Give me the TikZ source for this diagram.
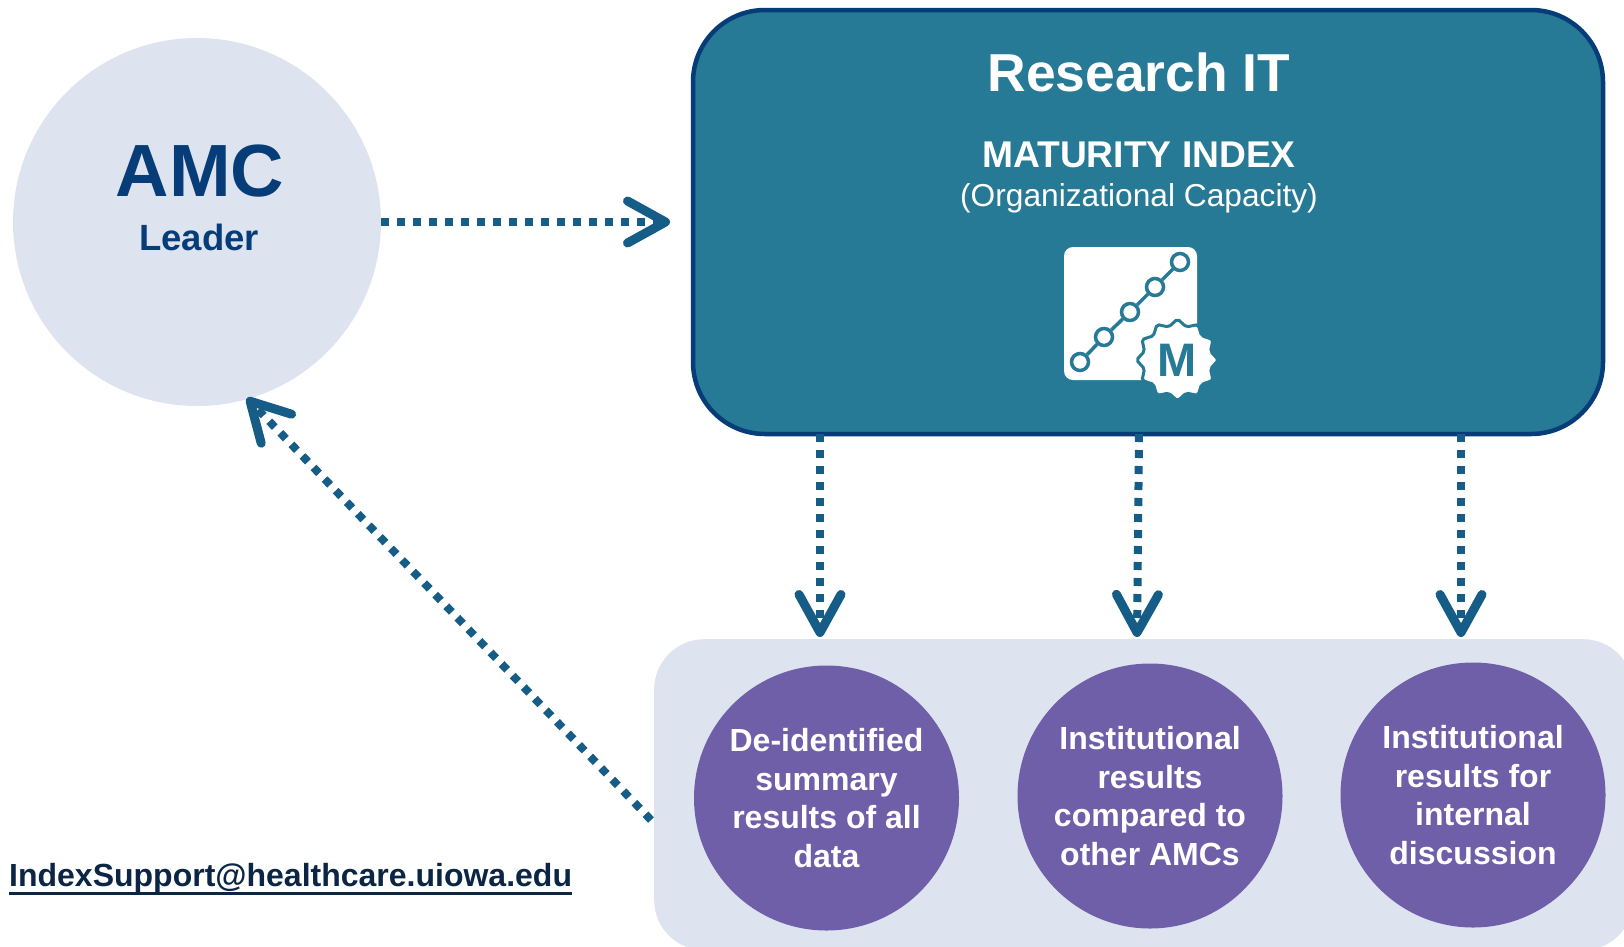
\documentclass[tikz,border=0pt]{standalone}
\usepackage{fontspec}
\setmainfont{Liberation Sans}
\usetikzlibrary{arrows.meta,shapes.geometric}
\definecolor{paleblue}{HTML}{DDE4F0}
\definecolor{navy}{HTML}{063C78}
\definecolor{teal}{HTML}{267A96}
\definecolor{flow}{HTML}{155C87}
\definecolor{purple}{HTML}{6F5FA8}
\definecolor{mail}{HTML}{0B2545}
\newcommand{\fs}[1]{\fontsize{#1}{#1}\selectfont}
\tikzset{
	flowline/.style={draw=flow,line width=8pt,dash pattern=on 8pt off 8pt,
		-{Straight Barb[length=38pt,width=42pt,line width=9pt,round]}},
	result/.style={circle,fill=purple,text=white,minimum size=265pt,inner sep=0pt,
		align=center,font=\fs{32}\bfseries},
	dot/.style={circle,draw=teal,fill=white,line width=3.5pt,minimum size=17pt,inner sep=0pt},
	link/.style={teal,line width=3.5pt},
}
\begin{document}
\begin{tikzpicture}[x=1pt,y=-1pt]
	\useasboundingbox (0,0) rectangle (1624,946);
	\clip (0,0) rectangle (1624,946);
	\node[circle,fill=paleblue,minimum size=368pt,inner sep=0pt] (amc) at (197,222) {};
	\node[text=navy,font=\fs{74}\bfseries] (amcname) at (200,171) {AMC};
	\node[text=navy,font=\fs{36.5}\bfseries] (leader) at (199,237) {Leader};
	\node[draw=navy,line width=4.5pt,fill=teal,rounded corners=72pt,minimum width=910pt,
		minimum height=424pt,inner sep=0pt] (research) at (1148,222) {};
	\node[text=white,font=\fs{53.4}\bfseries] (title) at (1139,72) {Research IT};
	\node[text=white,font=\fs{37.2}\bfseries] (index) at (1139,155) {MATURITY INDEX};
	\node[text=white,font=\fs{31.7}] (capacity) at (1139,198.5) {(Organizational Capacity)};
	% icon
	\node[fill=white,rounded corners=9pt,minimum width=133pt,minimum height=133pt,inner sep=0pt] (icon) at (1130.5,313.5) {};
	\node[dot] (d1) at (1080,362) {};
	\node[dot] (d2) at (1104,337) {};
	\node[dot] (d3) at (1130,312) {};
	\node[dot] (d4) at (1155,287) {};
	\node[dot] (d5) at (1180,262) {};
	\draw[link] (d1)--(d2);
	\draw[link] (d2)--(d3);
	\draw[link] (d3)--(d4);
	\draw[link] (d4)--(d5);
	\node[star,star points=12,star point ratio=1.2,fill=white,draw=teal,line width=3pt,
		minimum size=82pt,inner sep=0pt,rounded corners=2pt,text=teal,font=\fs{47}\bfseries] (badge) at (1177.5,360) {M};
	% results
	\node[fill=paleblue,rounded corners=50pt,minimum width=979pt,minimum height=311pt,inner sep=0pt,anchor=north west] (panel) at (654,639) {};
	\node[result] (r1) at (826.5,798) {De-identified\\[6.5pt]summary\\[6.5pt]results of all\\[6.5pt]data};
	\node[result] (r2) at (1150,796) {Institutional\\[6.5pt]results\\[6.5pt]compared to\\[6.5pt]other AMCs};
	\node[result] (r3) at (1473,795) {Institutional\\[6.5pt]results for\\[6.5pt]internal\\[6.5pt]discussion};
	\node[text=mail,font=\fs{32}\bfseries,anchor=west,inner sep=0pt] (email) at (9,878.5) {IndexSupport@healthcare.uiowa.edu};
	\draw[mail,line width=3pt] (email.south west)--(email.south east);
	\coordinate (t0) at (670,222);
	\coordinate (s1) at (820,434);
	\coordinate (t1) at (820,637);
	\coordinate (s2) at (1139,434);
	\coordinate (t2) at (1137,637);
	\coordinate (s3) at (1461,434);
	\coordinate (t3) at (1461,637);
	\coordinate (s4) at (651,820);
	\coordinate (t4) at (247,398);
	\draw[flowline] (amc.east) -- (t0);
	\draw[flowline] (s1) -- (t1);
	\draw[flowline] (s2) -- (t2);
	\draw[flowline] (s3) -- (t3);
	\draw[flowline] (s4) -- (t4);
\end{tikzpicture}
\end{document}
